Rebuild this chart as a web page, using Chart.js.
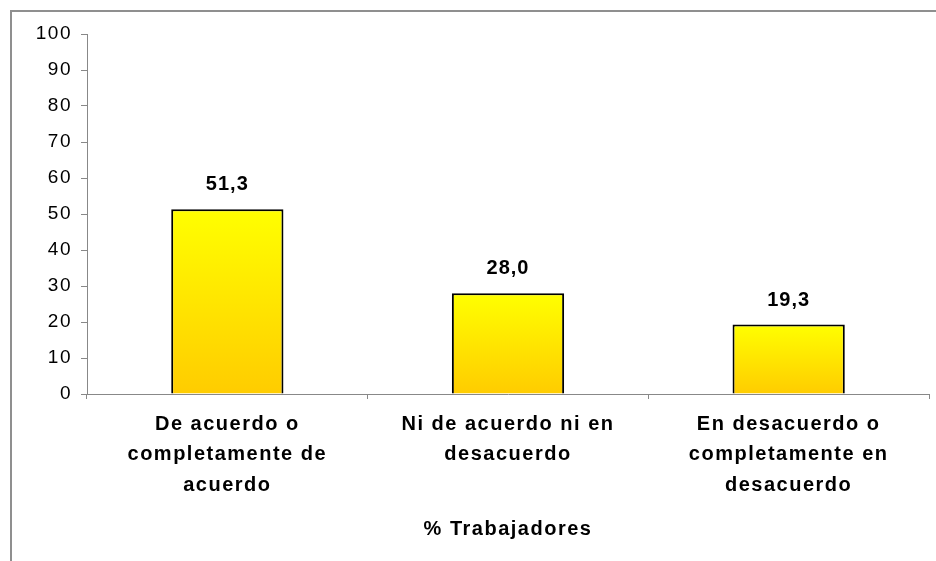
<!DOCTYPE html>
<html>
<head>
<meta charset="utf-8">
<script src="https://cdn.jsdelivr.net/npm/chart.js@4.4.1/dist/chart.umd.min.js"></script>
<style>
  html, body { margin: 0; padding: 0; background: #fff; }
  canvas { display: block; }
</style>
</head>
<body>
<canvas id="chart" width="936" height="561"></canvas>
<script>
// Categories (multi-line labels) and percentage of workers per answer
const categories = [
  ['De acuerdo o', 'completamente de', 'acuerdo'],
  ['Ni de acuerdo ni en', 'desacuerdo'],
  ['En desacuerdo o', 'completamente en', 'desacuerdo']
];
const percentages = [51.3, 28.0, 19.3];
const axisTitle = '% Trabajadores';

const FONT = "'Liberation Sans', Arial, sans-serif";
const AXIS_GREY = '#888888';

// Canvas letter spacing (the canvas resets it on resize, so set it before layout and draw)
const spacingPlugin = {
  id: 'spacing',
  beforeLayout(chart) { chart.ctx.letterSpacing = '1.5px'; },
  beforeDraw(chart) { chart.ctx.letterSpacing = '1.5px'; }
};

// Grey frame around the whole figure
const framePlugin = {
  id: 'frame',
  beforeDraw(chart) {
    const ctx = chart.ctx;
    ctx.save();
    ctx.strokeStyle = '#8f8f8f';
    ctx.lineWidth = 2;
    ctx.beginPath();
    ctx.moveTo(11, chart.height + 2);
    ctx.lineTo(11, 11);
    ctx.lineTo(chart.width + 2, 11);
    ctx.stroke();
    ctx.restore();
  }
};

// Value labels above each bar, written with a decimal comma
const valueLabelPlugin = {
  id: 'valueLabels',
  afterDatasetsDraw(chart) {
    const ctx = chart.ctx;
    const meta = chart.getDatasetMeta(0);
    ctx.save();
    ctx.letterSpacing = '1px';
    ctx.font = 'bold 20px ' + FONT;
    ctx.fillStyle = '#000';
    ctx.textAlign = 'center';
    ctx.textBaseline = 'alphabetic';
    meta.data.forEach((bar, i) => {
      const txt = percentages[i].toFixed(1).replace('.', ',');
      ctx.fillText(txt, bar.x, bar.y - 19);
    });
    ctx.restore();
  }
};

// Vertical yellow gradient for each bar, from its top down to the baseline
function barGradient(context) {
  const chart = context.chart;
  const yScale = chart.scales.y;
  if (!yScale || context.dataIndex === undefined) return '#FFE000';
  const v = context.dataset.data[context.dataIndex];
  const top = yScale.getPixelForValue(v);
  const bottom = yScale.getPixelForValue(0);
  if (!isFinite(top) || !isFinite(bottom) || top === bottom) return '#FFE000';
  const g = chart.ctx.createLinearGradient(0, top, 0, bottom);
  g.addColorStop(0, '#FFFF00');
  g.addColorStop(1, '#FFCC00');
  return g;
}

new Chart(document.getElementById('chart'), {
  type: 'bar',
  data: {
    labels: categories,
    datasets: [{
      data: percentages,
      backgroundColor: barGradient,
      borderColor: '#000000',
      borderWidth: 2,
      borderSkipped: 'bottom',
      barPercentage: 0.8,
      categoryPercentage: 0.5
    }]
  },
  options: {
    responsive: false,
    animation: false,
    devicePixelRatio: 1,
    layout: { padding: { left: 0, right: 7, top: 34, bottom: 0 } },
    plugins: {
      legend: { display: false },
      tooltip: { enabled: false },
      title: { display: false }
    },
    scales: {
      x: {
        offset: true,
        grid: {
          offset: true,
          drawOnChartArea: false,
          drawTicks: true,
          tickLength: 5,
          color: AXIS_GREY
        },
        border: { color: AXIS_GREY, width: 1 },
        ticks: {
          color: '#000',
          padding: 10,
          maxRotation: 0,
          autoSkip: false,
          font: { family: FONT, size: 20, weight: 'bold', lineHeight: 1.52 }
        },
        title: {
          display: true,
          text: axisTitle,
          color: '#000',
          padding: { top: 0, bottom: 20 },
          font: { family: FONT, size: 20, weight: 'bold', lineHeight: 1.2 }
        },
        afterFit(scale) { scale.height = 167; }
      },
      y: {
        min: 0,
        max: 100,
        ticks: {
          stepSize: 10,
          color: '#000',
          padding: 9,
          font: { family: FONT, size: 19 }
        },
        grid: {
          drawOnChartArea: false,
          drawTicks: true,
          tickLength: 6,
          color: AXIS_GREY
        },
        border: { color: AXIS_GREY, width: 1 },
        afterFit(scale) { scale.width = 87; }
      }
    }
  },
  plugins: [spacingPlugin, framePlugin, valueLabelPlugin]
});
</script>
</body>
</html>
